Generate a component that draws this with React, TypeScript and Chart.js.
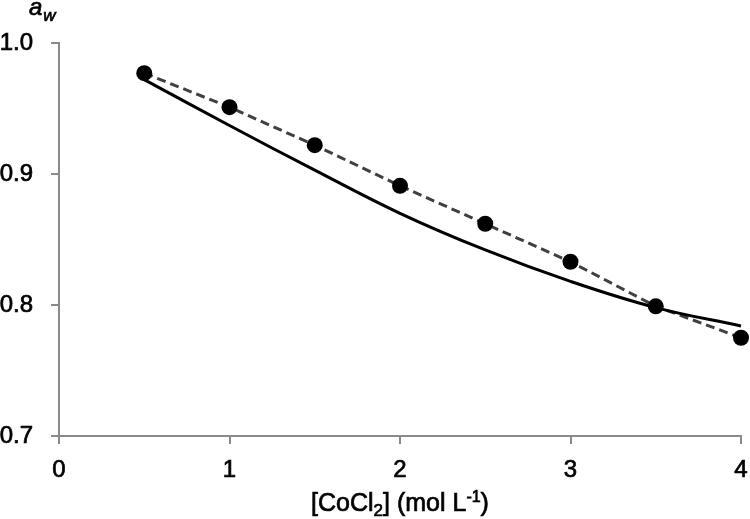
import React, { useEffect, useRef } from "react";
import { Chart, registerables } from "chart.js";

Chart.register(...registerables);

const concentrations = [0.5, 1, 1.5, 2, 2.5, 3, 3.5, 4];
const measuredAw = [0.977, 0.951, 0.922, 0.891, 0.862, 0.833, 0.799, 0.775];
const modelAw = [0.972, 0.937, 0.903, 0.870, 0.842, 0.818, 0.798, 0.784];
const xTicks = [0, 1, 2, 3, 4];
const yTicks = [0.7, 0.8, 0.9, 1.0];

const FONT = "'Liberation Sans', Arial, sans-serif";
const AXIS_GREY = "#8a8a8a";
const STROKE = 0.7;

const titlesPlugin = {
  id: "titles",
  afterDraw(chart: any) {
    const ctx = chart.ctx;
    ctx.save();
    ctx.fillStyle = "#000";
    ctx.strokeStyle = "#000";
    ctx.lineWidth = STROKE;
    ctx.textBaseline = "alphabetic";
    ctx.textAlign = "left";
    const draw = (t: string, x: number, y: number) => {
      ctx.fillText(t, x, y);
      ctx.strokeText(t, x, y);
    };
    // y-axis title a_w
    ctx.font = `italic 24px ${FONT}`;
    draw("a", 29, 15);
    const aw = ctx.measureText("a").width;
    ctx.font = `italic 17px ${FONT}`;
    draw("w", 29 + aw + 1, 21);

    // x-axis title [CoCl2] (mol L-1)
    const parts = [
      { t: "[CoCl", size: 25, dy: 0 },
      { t: "2", size: 17, dy: 5 },
      { t: "] (mol L", size: 25, dy: 0 },
      { t: "-1", size: 16, dy: -9 },
      { t: ")", size: 25, dy: 0 },
    ];
    let total = 0;
    const widths: number[] = [];
    for (const p of parts) {
      ctx.font = `${p.size}px ${FONT}`;
      const w = ctx.measureText(p.t).width;
      widths.push(w);
      total += w;
    }
    const area = chart.chartArea;
    let x = (area.left + area.right) / 2 - total / 2;
    const baseY = 511;
    parts.forEach((p, i) => {
      ctx.font = `${p.size}px ${FONT}`;
      draw(p.t, x, baseY + p.dy);
      x += widths[i];
    });
    ctx.restore();
  },
};

export default function App() {
  const canvasRef = useRef<HTMLCanvasElement | null>(null);

  useEffect(() => {
    if (!canvasRef.current) return;
    const tickFont = { family: FONT, size: 24 };
    const chart = new Chart(canvasRef.current, {
      type: "line",
      data: {
        datasets: [
          {
            label: "Model",
            data: concentrations.map((c, i) => ({ x: c, y: modelAw[i] })),
            borderColor: "#000",
            borderWidth: 3,
            pointRadius: 0,
            tension: 0.4,
            fill: false,
            clip: false as any,
          },
          {
            label: "Measured",
            data: concentrations.map((c, i) => ({ x: c, y: measuredAw[i] })),
            borderColor: "#404040",
            borderWidth: 3,
            borderDash: [9, 5],
            pointRadius: 8,
            pointBackgroundColor: "#000",
            pointBorderColor: "#000",
            pointBorderWidth: 0,
            tension: 0,
            fill: false,
            clip: false as any,
          },
        ],
      },
      options: {
        animation: false,
        responsive: false,
        events: [],
        layout: { padding: { left: 0, right: 9, top: 43, bottom: 0 } },
        plugins: {
          legend: { display: false },
          tooltip: { enabled: false },
          title: { display: false },
        },
        scales: {
          x: {
            type: "linear",
            min: 0,
            max: 4,
            afterFit(scale: any) {
              scale.height = 83;
              scale.paddingLeft = 0;
              scale.paddingRight = 0;
            },
            afterBuildTicks(scale: any) {
              scale.ticks = xTicks.map((v) => ({ value: v }));
            },
            ticks: {
              font: tickFont,
              color: "#000",
              padding: 12,
              maxRotation: 0,
              textStrokeColor: "#000",
              textStrokeWidth: STROKE,
              callback: (v: any) => String(v),
            },
            grid: {
              display: true,
              drawOnChartArea: false,
              drawTicks: true,
              tickLength: 8,
              color: AXIS_GREY,
              lineWidth: 2,
            },
            border: { display: true, color: AXIS_GREY, width: 2 },
          },
          y: {
            type: "linear",
            min: 0.7,
            max: 1.0,
            afterFit(scale: any) {
              scale.width = 59;
              scale.paddingTop = 0;
              scale.paddingBottom = 0;
            },
            afterBuildTicks(scale: any) {
              scale.ticks = yTicks.map((v) => ({ value: v }));
            },
            ticks: {
              font: tickFont,
              color: "#000",
              padding: 18,
              textStrokeColor: "#000",
              textStrokeWidth: STROKE,
              callback: (v: any) => Number(v).toFixed(1),
            },
            grid: {
              display: true,
              drawOnChartArea: false,
              drawTicks: true,
              tickLength: 8,
              color: AXIS_GREY,
              lineWidth: 2,
            },
            border: { display: true, color: AXIS_GREY, width: 2 },
          },
        },
      },
      plugins: [titlesPlugin],
    });
    return () => chart.destroy();
  }, []);

  return (
    <div style={{ position: "fixed", left: 0, top: 0, width: 750, height: 519, background: "#fff" }}>
      <canvas ref={canvasRef} width={750} height={519} style={{ display: "block" }} />
    </div>
  );
}
